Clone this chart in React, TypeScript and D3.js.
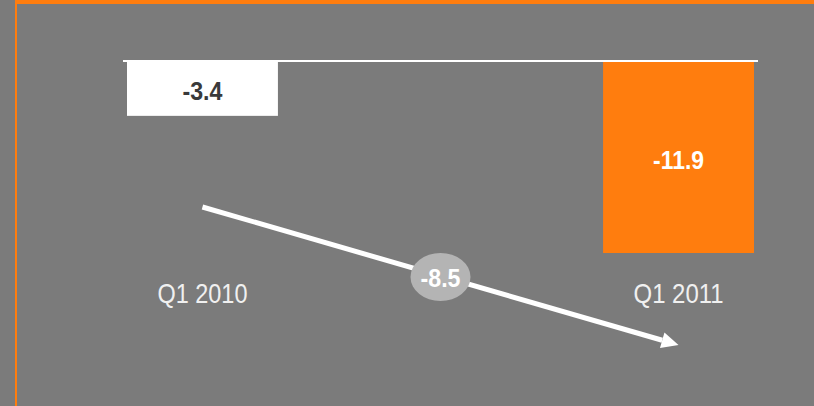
import React from "react";
import * as d3 from "d3";

const categories = ["Q1 2010", "Q1 2011"];
const values = [-3.4, -11.9];
const valueLabels = ["-3.4", "-11.9"];
const changeLabel = "-8.5";

const W = 814;
const H = 406;
const BG = "#7b7b7b";
const ORANGE = "#ff7d0e";

export default function App() {
  React.useEffect(() => {
    document.documentElement.style.overflow = "hidden";
    document.documentElement.style.background = BG;
    document.body.style.margin = "0";
    document.body.style.overflow = "hidden";
    document.body.style.background = BG;
  }, []);
  const x = d3.scaleBand<string>().domain(categories).range([127, 754]).paddingInner(0.683).paddingOuter(0);
  const y = d3.scaleLinear().domain([0, -11.9]).range([61, 253]);
  const barColors = ["#ffffff", ORANGE];
  const labelColors = ["#3a3a3a", "#ffffff"];
  const valueWidths = [40, 51];

  const c0 = (x(categories[0]) as number) + x.bandwidth() / 2;
  const c1 = (x(categories[1]) as number) + x.bandwidth() / 2;
  const ay0 = 207;
  const ay1 = 345;
  const mx = (c0 + c1) / 2;
  const my = (ay0 + ay1) / 2;
  const ang = Math.atan2(ay1 - ay0, c1 - c0);
  const headLen = 17;
  const headW = 8;
  const bx = c1 - headLen * Math.cos(ang);
  const by = ay1 - headLen * Math.sin(ang);
  const head = [
    [c1, ay1],
    [bx + headW * Math.sin(ang), by - headW * Math.cos(ang)],
    [bx - headW * Math.sin(ang), by + headW * Math.cos(ang)],
  ];

  return (
    <svg width={W} height={H} style={{ display: "block", position: "fixed", left: 0, top: 0 }}>
      <rect x={0} y={0} width={W} height={H} fill={BG} />
      <rect x={15} y={0} width={W - 15} height={4} fill={ORANGE} />
      <rect x={15} y={0} width={2} height={H} fill={ORANGE} />
      {categories.map((c, i) => {
        const x0 = x(c) as number;
        const yTop = y(0);
        const yBot = y(values[i]);
        return (
          <g key={c}>
            <rect x={x0} y={yTop} width={x.bandwidth()} height={yBot - yTop} fill={barColors[i]} />
            <text
              x={x0 + x.bandwidth() / 2 - valueWidths[i] / 2}
              y={(yTop + yBot) / 2 + 12}
              fontFamily="'Liberation Sans', Arial, sans-serif"
              fontWeight="bold"
              fontSize={25}
              textLength={valueWidths[i]}
              lengthAdjust="spacingAndGlyphs"
              fill={labelColors[i]}
            >
              {valueLabels[i]}
            </text>
            <text
              x={x0 + x.bandwidth() / 2 - 45}
              y={303}
              fontFamily="'Liberation Sans', Arial, sans-serif"
              fontSize={28}
              textLength={90}
              lengthAdjust="spacingAndGlyphs"
              fill="#f0f0f0"
            >
              {c}
            </text>
          </g>
        );
      })}
      <line x1={123} x2={758} y1={y(0)} y2={y(0)} stroke="#ffffff" strokeWidth={2} />
      <line x1={c0} y1={ay0} x2={bx} y2={by} stroke="#ffffff" strokeWidth={5} />
      <polygon points={head.map((p) => p.join(",")).join(" ")} fill="#ffffff" />
      <ellipse cx={mx} cy={my + 1} rx={30} ry={24} fill="#b4b4b4" />
      <text
        x={mx - 20}
        y={my + 11}
        fontFamily="'Liberation Sans', Arial, sans-serif"
        fontWeight="bold"
        fontSize={25}
        textLength={40}
        lengthAdjust="spacingAndGlyphs"
        fill="#ffffff"
      >
        {changeLabel}
      </text>
    </svg>
  );
}
